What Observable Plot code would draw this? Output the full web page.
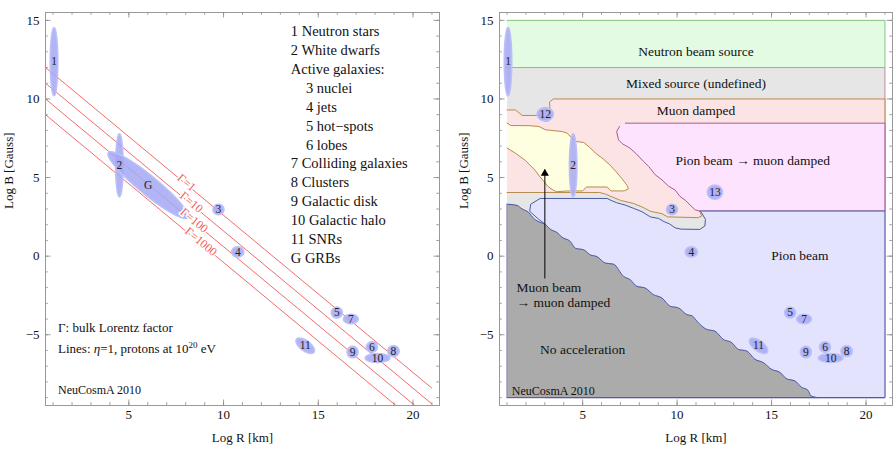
<!DOCTYPE html>
<html><head><meta charset="utf-8">
<script src="https://cdn.jsdelivr.net/npm/d3@7"></script>
<script src="https://cdn.jsdelivr.net/npm/@observablehq/plot@0.6"></script>
<style>body{margin:0;background:#fff}#wrap{display:flex;width:893px;height:462px}svg{display:block}</style>
</head><body><div id="wrap"></div>
<script>
// ---------- data ----------
const xDomain = [0.6, 21.4];
const yDomain = [-9.5, 15.5];
const xMajor = [5, 10, 15, 20];
const xMinor = [1,2,3,4,5,6,7,8,9,10,11,12,13,14,15,16,17,18,19,20,21];
const yMajor = [-5, 0, 5, 10, 15];
const yMinor = [-9,-8,-7,-6,-5,-4,-3,-2,-1,0,1,2,3,4,5,6,7,8,9,10,11,12,13,14,15];

// source classes (log R, log B) and extents
const srcId    = ["1","2","G","3","4","5","7","11","9","6","10","8","12","13"];
const srcX     = [1.05, 4.5, 6.02, 9.73, 10.75, 15.98, 16.72, 14.31, 16.81, 17.83, 18.13, 18.97, 3.02, 12.0];
const srcY     = [12.37, 5.78, 4.52, 2.97, 0.27, -3.59, -4.0, -5.7, -6.1, -5.78, -6.48, -6.04, 9.03, 4.07];
const srcA     = [0.2, 0.2, 2.95, 0.29, 0.32, 0.29, 0.39, 0.62, 0.29, 0.29, 0.65, 0.3, 0.43, 0.4];
const srcB     = [2.17, 2.0, 0.55, 0.33, 0.33, 0.35, 0.3, 0.3, 0.37, 0.33, 0.28, 0.35, 0.42, 0.45];
const srcAngle = [0, 0, -45, 0, 0, 0, 0, -45, 0, 0, 0, 0, 0, 0];
const leftIds  = ["1","2","G","3","4","5","7","11","9","6","10","8"];
const rightIds = ["1","2","3","4","5","7","11","9","6","10","8","12","13"];

// Hillas lines (eta=1, protons at 1e20 eV)
const gammaLabel = ["Γ=1", "Γ=10", "Γ=100", "Γ=1000"];
const lineX1 = [0.6, 0.6, 0.6, 0.6];
const lineY1 = [12.0, 11.0, 10.0, 9.0];
const lineX2 = [21.0, 21.0, 20.1, 19.1];
const lineY2 = [-8.4, -9.4, -9.5, -9.5];
const gammaLabelX = [8.05, 8.3, 8.45, 8.8];

const legendText = ["1 Neutron stars","2 White dwarfs","Active galaxies:","3 nuclei","4 jets","5 hot−spots","6 lobes","7 Colliding galaxies","8 Clusters","9 Galactic disk","10 Galactic halo","11 SNRs","G GRBs"];
const legendIndent = [0,0,0,1,1,1,1,0,0,0,0,0,0];

// right panel regions
const neutronRegion = [[1,12],[21,12],[21,15],[1,15]];
const mixedRegion = [[1,-9],[21,-9],[21,12],[1,12]];
const muonDampedRegion = [[1,9.3],[1.45,9.3],[1.8,8.95],[2.75,8.95],[2.95,8.6],[3.2,8.6],[3.3,8.85],[3.25,9.8],[3.45,10],[21,10],[21,2.87],[11.2,2.87],[11.3,2.55],[11.1,2.45],[9.5,2.5],[9.2,2.7],[8.6,2.85],[8.2,3.1],[7.7,3.35],[7.0,3.55],[6.5,3.8],[6.2,3.95],[5.9,4.05],[1,4.05]];
const muonBeamRegion = [[1,8.46],[1.2,8.31],[2.15,8.3],[2.68,8.25],[3.03,8.04],[3.9,7.93],[4.17,7.83],[4.62,7.3],[5.06,7.23],[5.41,6.88],[5.67,6.56],[6.02,6.25],[6.4,5.85],[6.75,5.4],[7.1,4.9],[7.35,4.5],[7.42,4.28],[7.2,4.15],[6.5,4.15],[6.3,4.4],[5.2,4.4],[5.0,4.15],[4.2,4.15],[3.62,4.1],[3.44,4.2],[3.18,4.42],[2.74,5.05],[2.48,5.47],[1.96,6.1],[1.43,6.56],[1,6.88]];
const pionMuonRegion = [[7.26,8.46],[21,8.46],[21,2.87],[11.2,2.87],[10.96,2.94],[10.43,3.56],[10.15,3.8],[9.9,4.2],[9.55,4.45],[9.2,4.85],[8.84,5.18],[8.5,5.7],[8.22,6.03],[7.85,6.5],[7.5,6.88],[7.1,7.15],[6.9,7.4],[6.8,7.93],[6.95,8.25]];
const pionRegion = [[3.03,2.02],[2.68,2.34],[2.2,2.85],[2.25,3.3],[2.75,3.67],[6.3,3.67],[6.5,3.55],[6.8,3.4],[7.25,3.25],[7.7,3.04],[8.14,2.83],[8.58,2.5],[9.02,2.4],[9.3,2.2],[9.6,2.05],[9.9,1.8],[10.2,1.72],[11.2,1.7],[11.47,1.92],[11.5,2.34],[11.3,2.75],[11.2,2.87],[21,2.87],[21,-9],[3.03,-9]];
const noAccBoundary = [[1,3.3],[1.53,3.23],[1.79,3.01],[2.15,2.77],[2.41,2.4],[2.77,2.14],[3.03,2.02],[3.29,1.71],[3.65,1.5],[3.91,1.2],[4.35,0.93],[4.62,0.5],[5.06,0.4],[5.41,0.08],[5.76,-0.03],[6.2,-0.44],[6.64,-0.51],[7.17,-1.29],[7.52,-1.5],[7.87,-1.92],[8.31,-2.03],[8.75,-2.45],[9.2,-2.66],[9.64,-3.19],[10.07,-3.29],[10.52,-3.72],[10.8,-3.8],[11.05,-4.14],[11.57,-4.66],[12.0,-4.77],[12.45,-5.3],[12.89,-5.5],[13.24,-5.93],[13.68,-6.03],[14.12,-6.56],[14.56,-6.77],[15.0,-7.2],[15.45,-7.4],[15.8,-7.8],[16.24,-7.94],[16.6,-8.35],[16.9,-8.5],[17.1,-8.9],[17.45,-9]];

const regionText = ["Neutron beam source","Mixed source (undefined)","Muon damped","Pion beam → muon damped","Pion beam","No acceleration"];
const regionTextX = [11, 11, 11, 14.0, 16.5, 5.0];
const regionTextY = [13.0, 11.0, 9.26, 6.08, 0.0, -5.96];
const muonBeamText = ["Muon beam", "→ muon damped"];
const muonBeamTextY = [-1.98, -2.93];
const arrowX = 3.0, arrowFrom = -1.45, arrowTo = 5.46;

// ---------- helpers ----------
const H = 462, MT = 12, MB = 57;
const frameColor = "#999";
const font = "Liberation Serif";

function sources(ids) {
  return ids.map(id => {
    const i = srcId.indexOf(id);
    return {id, x: srcX[i], y: srcY[i], a: srcA[i], b: srcB[i], angle: srcAngle[i]};
  });
}
function outline(rows) {
  const out = [];
  rows.forEach(e => {
    const th = e.angle * Math.PI / 180;
    for (let i = 0; i <= 60; i++) {
      const t = 2 * Math.PI * i / 60;
      const u = e.a * Math.cos(t), v = e.b * Math.sin(t);
      out.push({id: e.id, x: e.x + u * Math.cos(th) - v * Math.sin(th), y: e.y + u * Math.sin(th) + v * Math.cos(th)});
    }
  });
  return out;
}
const pts = arr => arr.map(([x, y]) => ({x, y}));
const fmt = d => d < 0 ? "−" + (-d) : String(d);

function axesMarks(width, ml, mr, ylabelDx) {
  const kx = (width - ml - mr) / (xDomain[1] - xDomain[0]);
  const ky = (H - MT - MB) / (yDomain[1] - yDomain[0]);
  const majV = 5.5 / ky, minV = 2.8 / ky, majH = 5.5 / kx, minH = 2.8 / kx;
  const s = {stroke: "#888", strokeWidth: 0.8};
  return [
    Plot.ruleX(xMinor, {x: d => d, y1: yDomain[0], y2: yDomain[0] + minV, ...s}),
    Plot.ruleX(xMinor, {x: d => d, y1: yDomain[1], y2: yDomain[1] - minV, ...s}),
    Plot.ruleX(xMajor, {x: d => d, y1: yDomain[0], y2: yDomain[0] + majV, ...s}),
    Plot.ruleX(xMajor, {x: d => d, y1: yDomain[1], y2: yDomain[1] - majV, ...s}),
    Plot.ruleY(yMinor, {y: d => d, x1: xDomain[0], x2: xDomain[0] + minH, ...s}),
    Plot.ruleY(yMinor, {y: d => d, x1: xDomain[1], x2: xDomain[1] - minH, ...s}),
    Plot.ruleY(yMajor, {y: d => d, x1: xDomain[0], x2: xDomain[0] + majH, ...s}),
    Plot.ruleY(yMajor, {y: d => d, x1: xDomain[1], x2: xDomain[1] - majH, ...s}),
    Plot.frame({stroke: frameColor, strokeWidth: 1}),
    Plot.text(xMajor, {x: d => d, text: fmt, frameAnchor: "bottom", dy: 13, fontSize: 13, fill: "#111"}),
    Plot.text(yMajor, {y: d => d, text: fmt, frameAnchor: "left", dx: -6, textAnchor: "end", fontSize: 13, fill: "#111"}),
    Plot.text(["Log R [km]"], {frameAnchor: "bottom", dy: 36, fontSize: 13, fill: "#111"}),
    Plot.text(["Log B [Gauss]"], {frameAnchor: "left", dx: ylabelDx, rotate: -90, fontSize: 13, fill: "#111"})
  ];
}
function sourceMarks(ids) {
  const rows = sources(ids);
  return [
    Plot.line(outline(rows), {x: "x", y: "y", z: "id", fill: "#a3a8f5", fillOpacity: 0.85, stroke: "#bcc0f8", strokeWidth: 1.5, curve: "linear"}),
    Plot.text(rows, {x: "x", y: "y", text: "id", fontSize: 11.5, fill: "#222"})
  ];
}
function base(width, ml, mr, marks) {
  return Plot.plot({
    width, height: H, marginTop: MT, marginBottom: MB, marginLeft: ml, marginRight: mr,
    x: {domain: xDomain, axis: null}, y: {domain: yDomain, axis: null},
    style: {fontFamily: font, fontSize: "13px", background: "white", overflow: "visible"},
    marks
  });
}

// ---------- left panel ----------
const hillas = gammaLabel.map((g, i) => ({g, x1: lineX1[i], y1: lineY1[i], x2: lineX2[i], y2: lineY2[i],
  lx: gammaLabelX[i], ly: lineY1[i] + (lineY2[i] - lineY1[i]) * (gammaLabelX[i] - lineX1[i]) / (lineX2[i] - lineX1[i])}));
const legend = legendText.map((t, i) => ({t, x: 13.55 + legendIndent[i] * 0.8, y: 14.28 - i * 1.2}));

const left = base(446, 45, 7, [
  Plot.link(hillas, {x1: "x1", y1: "y1", x2: "x2", y2: "y2", stroke: "#f25a5a", strokeWidth: 0.9}),
  ...sourceMarks(leftIds),
  Plot.text(hillas, {x: "lx", y: "ly", text: "g", rotate: 39.8, dy: -2, fill: "#f25a5a", fontSize: 12, stroke: "white", strokeWidth: 3, paintOrder: "stroke"}),
  Plot.text(legend, {x: "x", y: "y", text: "t", textAnchor: "start", fontSize: 14.5, fill: "#111"}),
  Plot.text(["Γ: bulk Lorentz factor"], {x: 1.26, y: -4.56, textAnchor: "start", fontSize: 13, fill: "#111"}),
  Plot.text(["Lines: η=1, protons at 10^20 eV"], {x: 1.26, y: -5.89, textAnchor: "start", fontSize: 13, fill: "#111"}),
  Plot.text(["NeuCosmA 2010"], {x: 1.26, y: -8.52, textAnchor: "start", fontSize: 12, fill: "#111"}),
  ...axesMarks(446, 45, 7, -37)
]);
left.querySelectorAll("text").forEach(t => {
  if (t.textContent.includes("^20")) {
    t.innerHTML = 'Lines: <tspan font-style="italic">η</tspan>=1, protons at 10<tspan dy="-5" font-size="9">20</tspan><tspan dy="5"> eV</tspan>';
  }
});

// ---------- right panel ----------
const regionLabels = regionText.map((t, i) => ({t, x: regionTextX[i], y: regionTextY[i]}));
const right = base(447, 53, 1, [
  Plot.line(pts(mixedRegion), {x: "x", y: "y", fill: "#e6e6e6", stroke: "#c08aac", strokeWidth: 1}),
  Plot.line(pts(neutronRegion), {x: "x", y: "y", fill: "#e2fbe2", stroke: "#86c486", strokeWidth: 1}),
  Plot.line(pts(muonDampedRegion), {x: "x", y: "y", fill: "#fde4e4", stroke: "#b88a4e", strokeWidth: 1}),
  Plot.line(pts(muonBeamRegion), {x: "x", y: "y", fill: "#fefee1", stroke: "#b88a4e", strokeWidth: 1}),
  Plot.line(pts(pionMuonRegion), {x: "x", y: "y", fill: "#fde3fd", stroke: "#a8589a", strokeWidth: 1}),
  Plot.line(pts(pionRegion), {x: "x", y: "y", fill: "#e3e3fd", stroke: "#4a5aa8", strokeWidth: 1}),
  Plot.areaY(pts(noAccBoundary), {x: "x", y1: -9, y2: "y", fill: "#ababab", curve: "monotone-x"}),
  Plot.line(pts(noAccBoundary), {x: "x", y: "y", stroke: "#4a5aa8", strokeWidth: 1, curve: "monotone-x"}),
  Plot.ruleY([-9], {x1: 1, x2: 21, stroke: "#4a5aa8", strokeWidth: 1}),
  Plot.ruleX([1], {y1: -9, y2: 3.3, stroke: "#8a8ac8", strokeWidth: 1}),
  Plot.text(regionLabels, {x: "x", y: "y", text: "t", fontSize: 13.5, fill: "#111"}),
  Plot.text(muonBeamText, {x: 1.5, y: (d, i) => muonBeamTextY[i], text: d => d, textAnchor: "start", fontSize: 13.5, fill: "#111"}),
  Plot.text(["NeuCosmA 2010"], {x: 1.25, y: -8.58, textAnchor: "start", fontSize: 12, fill: "#111"}),
  Plot.ruleX([arrowX], {y1: arrowFrom, y2: arrowTo, stroke: "black", strokeWidth: 1}),
  Plot.dot([arrowX], {x: d => d, y: arrowTo, symbol: "triangle", r: 3, fill: "black", stroke: "none", dy: 3}),
  ...sourceMarks(rightIds),
  ...axesMarks(447, 53, 1, -36)
]);

const wrap = document.getElementById("wrap");
wrap.appendChild(left);
wrap.appendChild(right);
</script></body></html>
